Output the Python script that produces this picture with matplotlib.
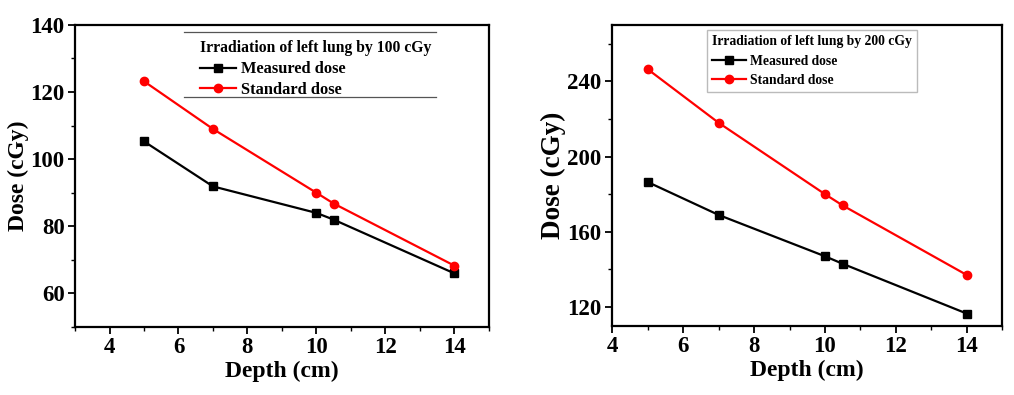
import numpy as np
import matplotlib.pyplot as plt
from matplotlib.lines import Line2D
from matplotlib.ticker import MultipleLocator

plt.rcParams['font.family'] = ['Liberation Serif', 'DejaVu Serif']
plt.rcParams['font.weight'] = 'bold'

# data
depth = [5, 7, 10, 10.5, 14]
measured_100 = [105.3, 91.9, 84.0, 82.0, 66.0]
standard_100 = [123.2, 109.0, 90.0, 86.8, 68.3]
measured_200 = [186.5, 169.0, 147.0, 143.0, 116.5]
standard_200 = [246.5, 218.0, 180.0, 174.0, 137.0]

fig = plt.figure(figsize=(10.14, 3.95), dpi=100)
ax1 = fig.add_axes([0.074, 0.172, 0.408, 0.765])
ax2 = fig.add_axes([0.6036, 0.175, 0.385, 0.762])


def style(ax, ymaj, ymin, ylab_size, ylab_pad):
    ax.xaxis.set_major_locator(MultipleLocator(2))
    ax.xaxis.set_minor_locator(MultipleLocator(1))
    ax.yaxis.set_major_locator(MultipleLocator(ymaj))
    ax.yaxis.set_minor_locator(MultipleLocator(ymin))
    ax.tick_params(which='major', direction='out', length=5, width=1.3, labelsize=16.5, pad=2.5)
    ax.tick_params(which='minor', direction='out', length=3, width=1.0)
    for s in ax.spines.values():
        s.set_linewidth(1.6)
    for lab in ax.get_xticklabels() + ax.get_yticklabels():
        lab.set_fontweight('bold')
    ax.set_xlabel('Depth (cm)', fontsize=17, fontweight='bold', labelpad=2)
    ax.set_ylabel('Dose (cGy)', fontsize=ylab_size, fontweight='bold', labelpad=ylab_pad)


ax1.plot(depth, measured_100, color='black', marker='s', markersize=5.5, lw=1.6, label='Measured dose')
ax1.plot(depth, standard_100, color='#ff0000', marker='o', markersize=6, lw=1.6, label='Standard dose')
ax1.set_xlim(3, 15)
ax1.set_ylim(50, 140)
style(ax1, 20, 10, 17, 1)

leg1 = ax1.legend(title='Irradiation of left lung by 100 cGy', loc='upper left',
                  bbox_to_anchor=(0.29, 0.965), borderaxespad=0, frameon=False,
                  fontsize=11.8, title_fontsize=11.3, handlelength=2.2,
                  handletextpad=0.3, labelspacing=0.3, borderpad=0.3)
leg1.get_title().set_fontweight('bold')
leg1._legend_box.align = 'left'
# only top and bottom rules around the legend, as in the original
ax1.add_line(Line2D([0.263, 0.872], [0.976, 0.976], transform=ax1.transAxes, color='#555555', lw=0.9))
ax1.add_line(Line2D([0.263, 0.872], [0.76, 0.76], transform=ax1.transAxes, color='#555555', lw=0.9))

ax2.plot(depth, measured_200, color='black', marker='s', markersize=5.5, lw=1.6, label='Measured dose')
ax2.plot(depth, standard_200, color='#ff0000', marker='o', markersize=6, lw=1.6, label='Standard dose')
ax2.set_xlim(4, 15)
ax2.set_ylim(110, 270)
style(ax2, 40, 20, 19.5, 1)

leg2 = ax2.legend(title='Irradiation of left lung by 200 cGy', loc='upper left',
                  bbox_to_anchor=(0.242, 0.983), borderaxespad=0, frameon=True,
                  fancybox=False, edgecolor='#aaaaaa', fontsize=9.8,
                  title_fontsize=9.8, handlelength=2.5, handletextpad=0.3,
                  labelspacing=0.45, borderpad=0.4)
leg2.get_frame().set_linewidth(1.0)
leg2.get_title().set_fontweight('bold')
leg2._legend_box.align = 'left'

fig.savefig('out.png', dpi=100)
